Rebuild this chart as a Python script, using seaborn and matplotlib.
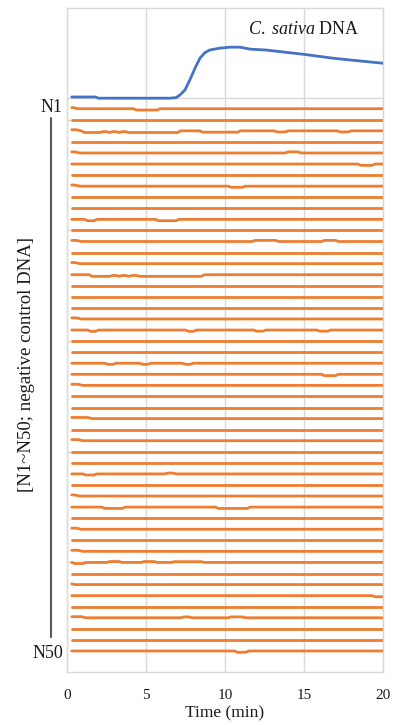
import numpy as np
import pandas as pd
import matplotlib
matplotlib.use("Agg")
import matplotlib.pyplot as plt
from matplotlib.lines import Line2D
import seaborn as sns

sns.set_theme(style="white")
plt.rcParams["font.family"] = ["Liberation Serif", "DejaVu Serif"]
plt.rcParams["mathtext.fontset"] = "custom"
plt.rcParams["mathtext.rm"] = "Liberation Serif"
plt.rcParams["mathtext.it"] = "Liberation Serif:italic"

BLUE = "#4472C4"
ORANGE = "#ED7D31"
GRID = "#D9D9D9"
INK = "#1A1A1A"

# C. sativa DNA amplification curve: time (min) and signal height (in trace-spacing units)
blue_time = [0.3, 1.8, 2.0, 6.5, 6.9, 7.15, 7.47, 7.78, 8.1, 8.42, 8.73, 9.05,
             9.68, 10.3, 10.95, 11.6, 12.6, 14.95, 16.85, 18.5, 20.0]
blue_signal = [0.06, 0.06, -0.05, -0.05, 0.0, 0.24, 0.70, 1.61, 2.66, 3.57, 4.07, 4.31,
               4.47, 4.56, 4.56, 4.38, 4.30, 3.92, 3.56, 3.32, 3.11]

# Negative controls N1..N50: flat traces with small baseline deviations
n_controls = 50
control_times = np.round(np.arange(0.3, 20.001, 0.1), 2)

# traces whose first readings sit slightly high: (trace, time the offset ends)
start_offsets = [(1, 0.7), (3, 0.9), (5, 0.8), (8, 0.8), (13, 0.9), (15, 0.8),
                 (20, 0.9), (26, 1.0), (29, 1.6), (31, 1.0), (36, 0.8), (39, 0.9),
                 (41, 1.0), (44, 0.5), (47, 1.2)]

# baseline deviations: (trace, start min, end min, shift; positive = lower)
deviations = [
    (1, 4.4, 5.0, 0.12), (1, 5.2, 5.7, 0.12),
    (3, 1.1, 7.0, 0.15), (3, 2.3, 2.5, -0.08), (3, 2.9, 3.1, -0.08), (3, 3.5, 3.7, -0.08),
    (3, 8.6, 10.8, 0.12), (3, 13.3, 13.8, 0.1), (3, 17.3, 17.8, 0.1),
    (5, 14.0, 14.6, -0.1),
    (6, 18.6, 19.3, 0.12),
    (8, 10.4, 11.1, 0.1),
    (11, 1.3, 1.7, 0.12), (11, 5.8, 6.9, 0.12),
    (13, 11.9, 13.2, -0.1), (13, 16.3, 17.0, -0.1),
    (16, 1.6, 8.5, 0.15), (16, 2.9, 3.1, -0.08), (16, 3.5, 3.7, -0.08), (16, 4.1, 4.4, -0.08),
    (21, 1.5, 1.8, 0.12), (21, 7.7, 8.0, 0.12), (21, 12.0, 12.4, 0.1), (21, 16.0, 16.5, 0.1),
    (24, 2.6, 2.9, 0.1), (24, 4.8, 5.1, 0.1), (24, 7.5, 7.8, 0.1),
    (25, 16.3, 17.0, 0.12),
    (34, 1.2, 1.7, 0.1), (34, 6.4, 6.7, -0.08),
    (37, 2.4, 3.5, 0.12), (37, 9.6, 11.4, 0.12),
    (42, 0.5, 1.0, 0.1), (42, 2.7, 3.3, -0.08), (42, 4.9, 5.5, -0.08), (42, 6.8, 8.5, -0.07),
    (45, 19.5, 20.0, 0.1),
    (47, 7.4, 7.7, -0.08), (47, 10.4, 11.1, -0.08),
    (50, 10.8, 11.3, 0.12),
]

x_ticks = [0, 5, 10, 15, 20]
row_grid = [0, 2, 12, 22, 32, 42]


def control_trace(row):
    t = control_times
    y = np.full(t.shape, float(row))
    ramp = 0.2
    for r, t0, t1, d in deviations:
        if r == row:
            y += np.interp(t, [t0 - ramp, t0, t1, t1 + ramp], [0, d, d, 0], left=0, right=0)
    for r, tend in start_offsets:
        if r == row:
            y += np.interp(t, [control_times[0], tend - 0.3, tend], [-0.1, -0.1, 0.0], right=0)
    return y


frames = []
for row in range(1, n_controls + 1):
    frames.append(pd.DataFrame({"time": control_times, "level": control_trace(row), "trace": row}))
controls = pd.concat(frames, ignore_index=True)
sample = pd.DataFrame({"time": blue_time, "level": -np.array(blue_signal)})

W, H = 395, 725
fig = plt.figure(figsize=(W / 100, H / 100), dpi=100)
ax = fig.add_axes([67 / W, 1 - 672 / H, 316 / W, 664 / H])

sns.lineplot(data=controls, x="time", y="level", units="trace", estimator=None,
             color=ORANGE, linewidth=2.0, ax=ax, zorder=3)
sns.lineplot(data=sample, x="time", y="level", color=BLUE, linewidth=2.0, ax=ax, zorder=4)

ax.set_xlim(0, 20)
ax.set_ylim(51.9, -8.1)
ax.set_xticks(x_ticks)
ax.set_xticklabels([str(v) for v in x_ticks], fontsize=11)
ax.set_yticks(row_grid)
ax.set_yticklabels([])
ax.tick_params(axis="both", length=0)
ax.tick_params(axis="x", pad=12, colors=INK)
ax.grid(True, color=GRID, linewidth=1.0, zorder=0)
ax.set_axisbelow(True)
for s in ax.spines.values():
    s.set_color(GRID)
    s.set_linewidth(1.0)
ax.set_xlabel("Time (min)", fontsize=12.5, labelpad=3, color=INK)
ax.set_ylabel("")

ax.text((303.5 - 67) / 316, 1 - 22 / 664, r"$\it{C.\ sativa}$ DNA", transform=ax.transAxes,
        ha="center", va="center", fontsize=13, color=INK)

fig.text(63 / W, 1 - 107 / H, "N1", ha="right", va="center", fontsize=13, color=INK)
fig.text(63 / W, 1 - 654 / H, "N50", ha="right", va="center", fontsize=13, color=INK)
fig.add_artist(Line2D([51 / W, 51 / W], [1 - 118 / H, 1 - 637 / H], transform=fig.transFigure,
                      color="#595959", linewidth=1.5))
fig.text(27 / W, 1 - 365 / H, "[N1~N50; negative control DNA]", rotation=90,
         ha="center", va="center", fontsize=13.5, color=INK)

fig.savefig("out.png", dpi=100)
